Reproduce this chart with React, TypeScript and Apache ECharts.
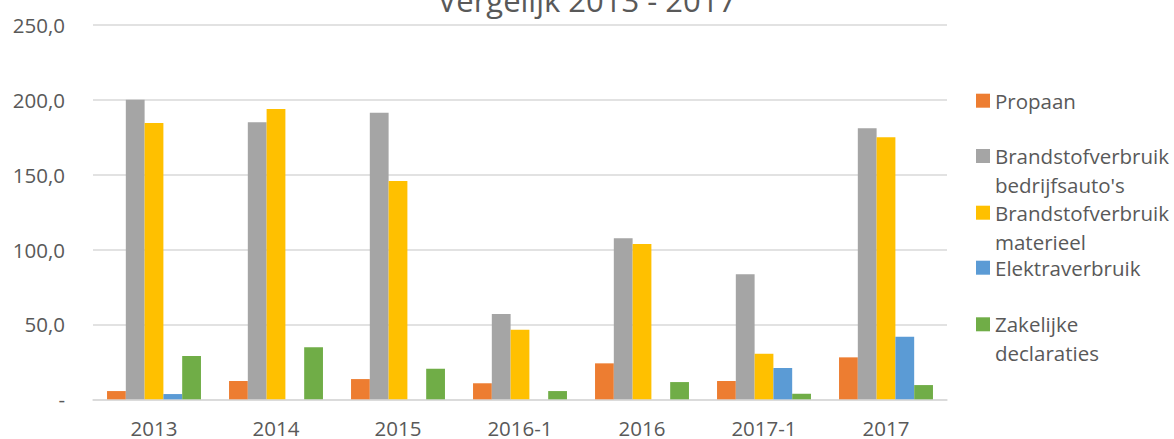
import React, { useEffect, useRef } from "react";
import * as echarts from "echarts";

const categories = ["2013", "2014", "2015", "2016-1", "2016", "2017-1", "2017"];
const propaan = [5.5, 12.2, 13.5, 10.7, 24.0, 12.2, 28.0];
const bedrijfsautos = [200.0, 184.9, 191.3, 56.9, 107.5, 83.4, 180.9];
const materieel = [184.4, 193.8, 145.7, 46.5, 103.7, 30.4, 174.9];
const elektra = [3.5, 0, 0, 0, 0, 20.9, 41.8];
const zakelijk = [28.9, 34.7, 20.4, 5.5, 11.5, 3.7, 9.5];

const seriesNames = [
  "Propaan",
  "Brandstofverbruik bedrijfsauto's",
  "Brandstofverbruik materieel",
  "Elektraverbruik",
  "Zakelijke declaraties",
];
const legendFirst = ["Propaan", "Brandstofverbruik", "Brandstofverbruik", "Elektraverbruik", "Zakelijke"];
const legendSecond = ["", "bedrijfsauto's", "materieel", "", "declaraties"];
const colors = ["#ED7D31", "#A5A5A5", "#FFC000", "#5B9BD5", "#70AD47"];
const title = "Vergelijk 2013 - 2017";

const FONT = "'Open Sans', sans-serif";
const TEXT = "#595959";
const FS = 20.5;

export default function App() {
  const ref = useRef<HTMLDivElement>(null);
  useEffect(() => {
    if (!ref.current) return;
    const chart = echarts.init(ref.current, undefined, { renderer: "svg" });
    const data = [propaan, bedrijfsautos, materieel, elektra, zakelijk];
    const legendCenters = [100.7, 156, 212.7, 267.7, 324.3];
    const secondCenters = [0, 185, 241.7, 0, 353];
    const lh = 24;
    const legends = seriesNames.map((n, i) => ({
      data: [n],
      left: 976,
      top: legendCenters[i] - lh / 2,
      orient: "vertical",
      padding: 0,
      itemWidth: 14,
      itemHeight: 14,
      icon: "rect",
      selectedMode: false,
      formatter: () => legendFirst[i],
      textStyle: { fontFamily: FONT, fontSize: FS, color: TEXT, lineHeight: lh },
    }));
    const graphics: any[] = [];
    legendSecond.forEach((t, i) => {
      if (!t) return;
      graphics.push({
        type: "text",
        left: 995,
        top: secondCenters[i] - lh / 2,
        style: {
          text: t,
          fill: TEXT,
          font: `${FS}px ${FONT}`,
          lineHeight: lh,
        },
      });
    });
    chart.setOption({
      animation: false,
      title: {
        text: title,
        left: "center",
        top: -21,
        textStyle: { fontFamily: FONT, fontSize: 31, fontWeight: "normal", color: TEXT, lineHeight: 31 },
      },
      legend: legends,
      graphic: graphics,
      grid: { left: 93, right: 227, top: 24.8, bottom: 39.7, containLabel: false },
      xAxis: {
        type: "category",
        data: categories,
        axisTick: { show: false },
        axisLine: { lineStyle: { color: "#D9D9D9", width: 1.5 } },
        axisLabel: { fontFamily: FONT, fontSize: FS, color: TEXT, margin: 21, lineHeight: 16 },
      },
      yAxis: {
        type: "value",
        min: 0,
        max: 250,
        interval: 50,
        axisLine: { show: false },
        axisTick: { show: false },
        splitLine: { lineStyle: { color: "#D9D9D9", width: 1.5 } },
        axisLabel: {
          fontFamily: FONT,
          fontSize: FS,
          color: TEXT,
          margin: 28,
          formatter: (v: number) => (v === 0 ? "-" : v.toFixed(1).replace(".", ",")),
        },
      },
      series: seriesNames.map((n, i) => ({
        name: n,
        type: "bar",
        data: data[i],
        barGap: "0%",
        barCategoryGap: "23%",
        itemStyle: { color: colors[i] },
      })),
    });
    return () => chart.dispose();
  }, []);
  return (
    <div
      ref={ref}
      style={{ position: "absolute", left: 0, top: 0, width: 1174, height: 439, background: "#fff" }}
    />
  );
}
